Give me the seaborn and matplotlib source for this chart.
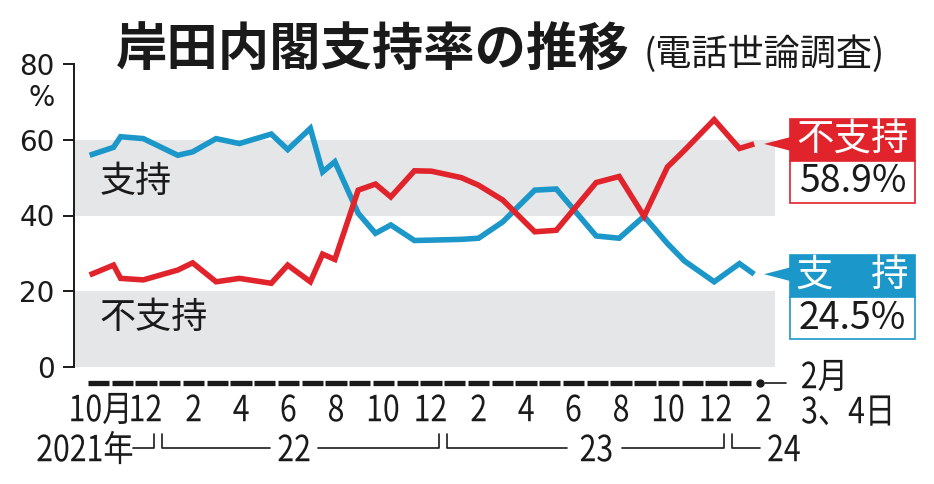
import calendar
import matplotlib
matplotlib.use("Agg")
import matplotlib.pyplot as plt
import matplotlib.transforms as mtransforms
from matplotlib.patches import Rectangle, Polygon, PathPatch
from matplotlib.textpath import TextPath
from matplotlib.font_manager import FontProperties
import seaborn as sns
import pandas as pd

# Kyodo phone poll, Kishida cabinet
survey_dates = ["2021-10-05", "2021-11-05", "2021-11-14", "2021-12-13",
                "2022-01-27", "2022-02-14", "2022-03-15", "2022-04-14", "2022-05-25",
                "2022-06-15", "2022-07-14", "2022-07-30", "2022-08-15", "2022-09-14",
                "2022-10-06", "2022-10-26", "2022-11-25", "2022-12-17",
                "2023-01-25", "2023-02-15", "2023-03-17", "2023-04-27", "2023-05-25",
                "2023-07-15", "2023-08-14", "2023-09-15", "2023-10-15", "2023-11-06",
                "2023-12-14", "2024-01-16", "2024-02-04"]
support = [55.9, 58.0, 60.8, 60.3, 55.9, 56.8, 60.3, 59.0, 61.5, 57.4, 63.0, 51.5,
           54.2, 40.6, 35.3, 37.5, 33.4, 33.5, 33.7, 34.0, 38.3, 46.7, 47.0, 34.6,
           34.0, 39.8, 32.6, 28.0, 22.5, 27.3, 24.5]
disapproval = [24.3, 26.9, 23.4, 23.0, 25.6, 27.5, 22.5, 23.4, 22.1, 26.9, 22.5, 29.8,
               28.4, 46.7, 48.3, 44.9, 51.8, 51.7, 50.0, 48.0, 44.1, 35.7, 36.1, 48.7,
               50.3, 39.8, 52.8, 57.2, 65.3, 57.7, 58.9]

month_labels = ["10月", "12", "2", "4", "6", "8", "10", "12", "2", "4", "6", "8", "10", "12", "2"]
year_labels = ["2021年", "22", "23", "24"]
yticks = [0, 20, 40, 60, 80]

BLUE = "#1b97c9"
RED = "#e1232c"
BAND = "#e5e6e8"
INK = "#1a1a1a"
W, H = 934, 484


def month_pos(s):
    # months counted from 1 Oct 2021
    d = pd.Timestamp(s)
    ndays = calendar.monthrange(d.year, d.month)[1]
    return (d.year - 2021) * 12 + (d.month - 10) + (d.day - 1) / ndays


df = pd.DataFrame({"t": [month_pos(s) for s in survey_dates],
                   "support": support, "disapproval": disapproval})

sns.set_theme(style="white")
plt.rcParams["font.family"] = ["Noto Sans CJK JP", "DejaVu Sans"]

fig = plt.figure(figsize=(W / 100, H / 100), dpi=100)
ax = fig.add_axes([74 / W, 1 - 367 / H, (775 - 74) / W, 303 / H])

ax.axhspan(0, 20, color=BAND, lw=0, zorder=0)
ax.axhspan(40, 60, color=BAND, lw=0, zorder=0)

sns.lineplot(data=df, x="t", y="support", color=BLUE, lw=4, ax=ax,
             solid_joinstyle="miter", solid_capstyle="butt", zorder=3)
sns.lineplot(data=df, x="t", y="disapproval", color=RED, lw=4, ax=ax,
             solid_joinstyle="miter", solid_capstyle="butt", zorder=3)

ax.set_xlim(-0.53, 28.98)
ax.set_ylim(0, 80)
ax.set_xlabel("")
ax.set_ylabel("")
ax.set_xticks([])
ax.set_yticks(yticks)
ax.set_yticklabels([str(v) for v in yticks], family="DejaVu Sans", fontsize=20, color=INK)
ax.tick_params(axis="y", direction="out", length=8, width=1.4, pad=6, colors=INK, left=True)
for side in ["top", "right", "bottom"]:
    ax.spines[side].set_visible(False)
ax.spines["left"].set_color(INK)
ax.spines["left"].set_linewidth(1.4)

fig.text(55 / W, 1 - 98 / H, "%", ha="right", va="center", fontsize=20,
         family="DejaVu Sans", color=INK)

# labels inside the bands
ax.text(0.56, 48.8, "支持", fontsize=26, va="center", ha="left", color=INK)
ax.text(0.56, 12.9, "不支持", fontsize=26, va="center", ha="left", color=INK)

# title
fig.text(116 / W, 1 - 50 / H, "岸田内閣支持率の推移", fontsize=37, fontweight="bold",
         va="center", ha="left", color=INK)
fig.text(644 / W, 1 - 54 / H, "(電話世論調査)", fontsize=26, va="center", ha="left", color=INK)

bt = mtransforms.blended_transform_factory(ax.transData, fig.transFigure)
narrow_fp = FontProperties(family="Noto Sans CJK JP")


def narrow_text(x, y, s, ha="center", size=36, sx=0.84, trans=bt):
    # condensed label, drawn as a path in display pixels
    px, py = trans.transform((x, y))
    tp = TextPath((0, 0), s, size=size, prop=narrow_fp)
    bb = tp.get_extents()
    if ha == "center":
        ox = px - (bb.x0 + bb.x1) / 2 * sx
    elif ha == "right":
        ox = px - bb.x1 * sx
    else:
        ox = px - bb.x0 * sx
    oy = py - 0.34 * size
    tr = mtransforms.Affine2D().scale(sx, 1).translate(ox, oy)
    fig.add_artist(PathPatch(tp, facecolor=INK, lw=0, transform=tr))


# month axis: one dash per month
bar_y = 1 - 383 / H
n_months = 28
for k in range(n_months):
    ax.plot([k + 0.05, k + 0.95], [bar_y, bar_y], color=INK, lw=3.8,
            solid_capstyle="butt", transform=bt, clip_on=False)
ax.plot([df["t"].iloc[-1] + 0.25], [bar_y], "o", color=INK, ms=5, transform=bt, clip_on=False)
ax.plot([df["t"].iloc[-1] + 0.45, 29.45], [bar_y, bar_y], color=INK, lw=1.2,
        transform=bt, clip_on=False)
narrow_text(802 / W, 1 - 376 / H, "2月", ha="left", trans=fig.transFigure)
narrow_text(802 / W, 1 - 411 / H, "3、4日", ha="left", trans=fig.transFigure)

lab_y = 1 - 409 / H
for i, lab in enumerate(month_labels):
    pos = 2 * i + 0.5
    if i == 0:
        narrow_text(1.70, lab_y, lab, ha="right")
    else:
        narrow_text(pos, lab_y, lab)

# year brackets
yr_y = 1 - 448 / H
tick_top = 1 - 434 / H
txt_y = 1 - 449 / H
g = 0.16
br = dict(color=INK, lw=1.2, transform=bt, clip_on=False)
narrow_text(1.92, txt_y, year_labels[0], ha="right")
ax.plot([1.97, 3 - g, 3 - g], [yr_y, yr_y, tick_top], **br)
ax.plot([3 + g, 3 + g, 7.72], [tick_top, yr_y, yr_y], **br)
narrow_text(8.73, txt_y, year_labels[1])
ax.plot([9.74, 15 - g, 15 - g], [yr_y, yr_y, tick_top], **br)
ax.plot([15 + g, 15 + g, 20.22], [tick_top, yr_y, yr_y], **br)
narrow_text(21.45, txt_y, year_labels[2])
ax.plot([22.54, 27 - g, 27 - g], [yr_y, yr_y, tick_top], **br)
ax.plot([27 + g, 27 + g, 28.35], [tick_top, yr_y, yr_y], **br)
narrow_text(29.36, txt_y, year_labels[3])


# end-of-line callouts
def callout(value, title, color, dy):
    tip_px = H - ax.transData.transform((0, value))[1]
    x0, x1 = 790, 915
    top = tip_px - 21 + dy
    mid = top + 42
    bot = mid + 42
    ff = lambda x, y: (x / W, 1 - y / H)
    fig.add_artist(Polygon([ff(764, tip_px), ff(791, tip_px - 7), ff(791, tip_px + 7)],
                           closed=True, color=color, transform=fig.transFigure, lw=0))
    fig.add_artist(Rectangle(ff(x0, mid), (x1 - x0) / W, (mid - top) / H, facecolor=color,
                             edgecolor=color, lw=1.2, transform=fig.transFigure))
    fig.add_artist(Rectangle(ff(x0, bot), (x1 - x0) / W, (bot - mid) / H, facecolor="white",
                             edgecolor=color, lw=1.2, transform=fig.transFigure))
    fig.text((x0 + x1) / 2 / W, 1 - (top + mid) / 2 / H, title, color="white",
             fontsize=27, ha="center", va="center")
    fig.text((x0 + x1) / 2 / W, 1 - (mid + bot) / 2 / H, f"{value}%", color=INK,
             fontsize=27, ha="center", va="center")


callout(disapproval[-1], "不支持", RED, -4)
callout(support[-1], "支　持", BLUE, 2)

fig.savefig("out.png", dpi=100)
